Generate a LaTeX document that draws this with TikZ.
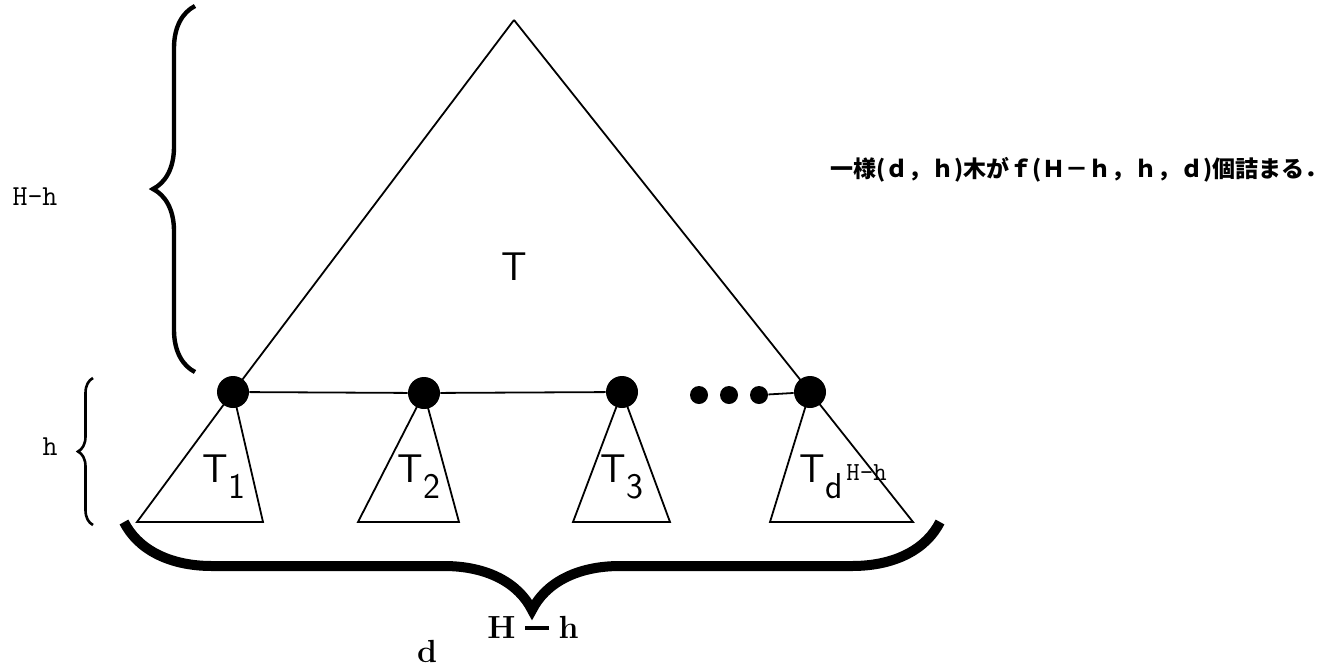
\documentclass[tikz,border=0pt]{standalone}
\usepackage{fontspec}
\usepackage{tikz}
\usetikzlibrary{positioning,decorations.pathreplacing}
\newfontfamily\cjk{Noto Sans CJK JP}
\newcommand{\subT}[1]{\textsf{T}\raisebox{-8pt}{\textsf{\fontsize{18}{18}\selectfont #1}}}

\begin{document}
\begin{tikzpicture}[
    x=0.5pt, y=-0.5pt,
    dot/.style={circle, fill=black, inner sep=0pt, minimum size=16pt},
    smalldot/.style={circle, fill=black, inner sep=0pt, minimum size=9pt},
    edge/.style={line width=0.9pt},
    lbl/.style={inner sep=0pt, anchor=base west, font=\sffamily\fontsize{20}{20}\selectfont},
    ttlbl/.style={inner sep=0pt, font=\ttfamily\fontsize{14.5}{14.5}\selectfont},
    boldlbl/.style={inner sep=0pt, font=\bfseries\fontsize{16}{16}\selectfont},
    bigbrace/.style={decorate, decoration={brace, amplitude=#1}}
]
\useasboundingbox (0,0) rectangle (1333,670);
% big tree
\coordinate (top) at (514,20);
\node[dot] (r1) at (233,392) {};
\node[dot] (r2) at (424,393) {};
\node[dot] (r3) at (622,392) {};
\node[dot] (rd) at (810,392) {};
\node[smalldot] (e1) at (699,395) {};
\node[smalldot] (e2) at (729,395) {};
\node[smalldot] (e3) at (759,395) {};
% base corners of subtrees
\coordinate (b1l) at (137,522);
\coordinate (b1r) at (263,522);
\coordinate (b2l) at (358,522);
\coordinate (b2r) at (459,522);
\coordinate (b3l) at (573,522);
\coordinate (b3r) at (670,522);
\coordinate (bdl) at (770,522);
\coordinate (bdr) at (913,522);
\draw[edge] (top) -- (r1.center);
\draw[edge] (top) -- (rd.center);
\draw[edge] (r1) -- (r2) -- (r3);
\draw[edge] (e3) -- (rd);
\draw[edge] (r1.center) -- (b1l) -- (b1r) -- (r1.center);
\draw[edge] (r2.center) -- (b2l) -- (b2r) -- (r2.center);
\draw[edge] (r3.center) -- (b3l) -- (b3r) -- (r3.center);
\draw[edge] (rd.center) -- (bdl) -- (bdr) -- (rd.center);
% labels
\node[lbl, anchor=base] (tl) at (514,280) {T};
\node[lbl] (t1) at (202,482) {\subT{1}};
\node[lbl] (t2) at (397,482) {\subT{2}};
\node[lbl] (t3) at (600,482) {\subT{3}};
\node[lbl] (td) at (799,482) {\subT{d}\hspace{2pt}\raisebox{1pt}{\ttfamily\fontsize{13}{13}\selectfont H-h}};
% braces
\draw[bigbrace=21pt, line width=2.2pt] (195,372) -- (195,6);
\draw[bigbrace=7.5pt, line width=1.3pt] (93,525) -- (93,378);
\draw[bigbrace=44pt, line width=5pt] (940,522) -- (124,522);
\node[ttlbl] (hH) at (35,197) {H-h};
\node[ttlbl, anchor=base] (hh) at (50,455) {h};
\node[boldlbl, anchor=base] (dexp) at (533,638)
  {H\hspace{0.3em}\rule[0.26em]{0.75em}{0.1em}\hspace{0.3em}h};
\node[boldlbl, anchor=base] (dbase) at (427,662) {d};
\node[inner sep=0pt, anchor=base west, font=\cjk\bfseries\fontsize{11.5}{11.5}\selectfont] (note) at (830,177)
  {一様(ｄ，ｈ)木がｆ(Ｈ－ｈ，ｈ，ｄ)個詰まる．};
\end{tikzpicture}
\end{document}
